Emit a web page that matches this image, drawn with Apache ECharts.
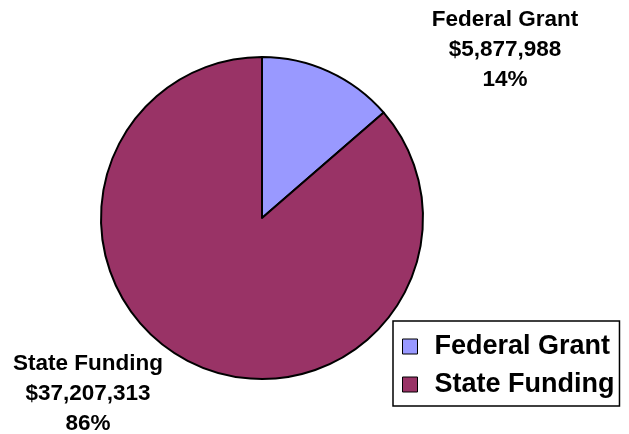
<!DOCTYPE html>
<html>
<head>
<meta charset="utf-8">
<script src="https://cdn.jsdelivr.net/npm/echarts@6/dist/echarts.min.js"></script>
<style>
  html, body { margin: 0; padding: 0; background: #fff; }
  #chart { width: 629px; height: 434px; }
</style>
</head>
<body>
<div id="chart"></div>
<script>
// 数据
var categories = ['Federal Grant', 'State Funding'];
var amounts = [5877988, 37207313];
var sliceColors = ['#9999FF', '#993366'];

// label anchor (center of the 3-line block) for each slice
var labelPos = [[505, 50], [88, 394]];

var chart = echarts.init(document.getElementById('chart'));

var option = {
  animation: false,
  legend: {
    orient: 'vertical',
    left: 393,
    top: 321,
    padding: [12, 5, 8, 9],
    itemGap: 11,
    itemWidth: 15,
    itemHeight: 15,
    icon: 'rect',
    borderColor: '#000',
    borderWidth: 1.5,
    itemStyle: { borderColor: '#000', borderWidth: 1 },
    textStyle: {
      fontFamily: 'Liberation Sans, Arial, sans-serif',
      fontWeight: 'bold',
      fontSize: 27,
      lineHeight: 27,
      color: '#000',
      padding: [0, 0, 0, 12]
    },
    data: categories
  },
  series: [
    {
      type: 'pie',
      center: [262, 218],
      radius: 161,
      startAngle: 90,
      clockwise: true,
      itemStyle: { borderColor: '#000', borderWidth: 2 },
      label: {
        show: true,
        position: 'outside',
        overflow: 'none',
        fontFamily: 'Liberation Sans, Arial, sans-serif',
        fontWeight: 'bold',
        fontSize: 22.5,
        lineHeight: 30,
        color: '#000',
        align: 'center',
        formatter: function (p) {
          return p.name + '\n$' + p.value.toLocaleString('en-US') + '\n' + Math.round(p.percent) + '%';
        }
      },
      labelLine: { show: false },
      labelLayout: function (params) {
        var pos = labelPos[params.dataIndex];
        return { x: pos[0], y: pos[1], align: 'center', verticalAlign: 'middle' };
      },
      data: categories.map(function (name, i) {
        return { name: name, value: amounts[i], itemStyle: { color: sliceColors[i] } };
      })
    }
  ]
};

chart.setOption(option);
</script>
</body>
</html>
